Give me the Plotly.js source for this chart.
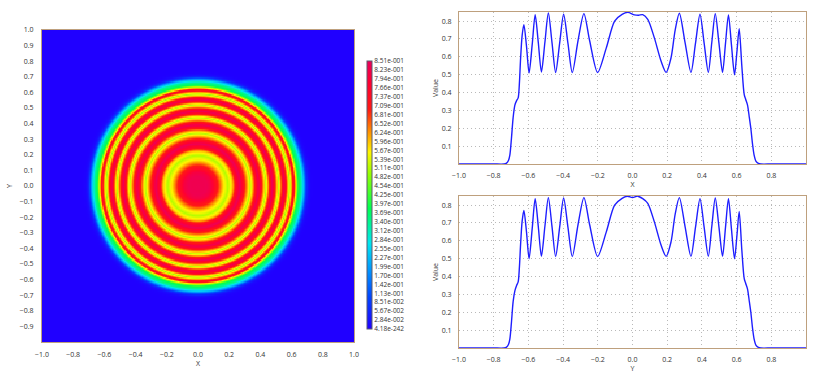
<!DOCTYPE html>
<html>
<head>
<meta charset="utf-8">
<script src="https://cdn.plot.ly/plotly-3.0.1.min.js"></script>
<style>
  html, body { margin: 0; padding: 0; background: #ffffff; }
  #chart { width: 822px; height: 384px; }
</style>
</head>
<body>
<div id="chart"></div>
<script>
// Profile along X (through centre)
const profXpos = [-1.0, -0.9, -0.8, -0.74, -0.726, -0.715, -0.707, -0.698, -0.688, -0.678, -0.668, -0.659, -0.652, -0.645, -0.636, -0.626, -0.611, -0.596, -0.578, -0.561, -0.543, -0.525, -0.505, -0.485, -0.464, -0.443, -0.420, -0.397, -0.372, -0.347, -0.314, -0.280, -0.247, -0.201, -0.151, -0.103, -0.060, -0.027, 0.011, 0.035, 0.059, 0.088, 0.126, 0.165, 0.194, 0.222, 0.246, 0.270, 0.303, 0.337, 0.363, 0.389, 0.413, 0.437, 0.457, 0.477, 0.498, 0.519, 0.536, 0.553, 0.570, 0.588, 0.602, 0.615, 0.630, 0.644, 0.653, 0.663, 0.672, 0.682, 0.692, 0.701, 0.712, 0.726, 0.74, 0.8, 0.9, 1.0];
const profXval = [0, 0, 0, 0, 0.005, 0.02, 0.05, 0.14, 0.26, 0.33, 0.355, 0.37, 0.45, 0.59, 0.72, 0.78, 0.66, 0.51, 0.67, 0.836, 0.68, 0.515, 0.68, 0.845, 0.68, 0.512, 0.675, 0.838, 0.675, 0.512, 0.69, 0.842, 0.69, 0.512, 0.65, 0.80, 0.838, 0.849, 0.835, 0.833, 0.836, 0.81, 0.706, 0.575, 0.513, 0.594, 0.75, 0.844, 0.68, 0.513, 0.675, 0.838, 0.675, 0.513, 0.68, 0.842, 0.68, 0.513, 0.675, 0.835, 0.67, 0.50, 0.63, 0.758, 0.55, 0.388, 0.36, 0.33, 0.27, 0.20, 0.11, 0.05, 0.015, 0.003, 0, 0, 0, 0];

// Profile along Y (through centre)
const profYpos = [-1.0, -0.9, -0.8, -0.74, -0.726, -0.715, -0.707, -0.698, -0.688, -0.678, -0.668, -0.659, -0.652, -0.645, -0.636, -0.626, -0.611, -0.596, -0.578, -0.561, -0.543, -0.525, -0.505, -0.485, -0.464, -0.443, -0.420, -0.397, -0.372, -0.347, -0.314, -0.280, -0.247, -0.201, -0.151, -0.103, -0.060, -0.030, 0.000, 0.030, 0.059, 0.088, 0.126, 0.165, 0.194, 0.222, 0.246, 0.270, 0.303, 0.337, 0.363, 0.389, 0.413, 0.437, 0.457, 0.477, 0.498, 0.519, 0.536, 0.553, 0.570, 0.588, 0.602, 0.615, 0.630, 0.644, 0.653, 0.663, 0.672, 0.682, 0.692, 0.701, 0.712, 0.726, 0.74, 0.8, 0.9, 1.0];
const profYval = [0, 0, 0, 0, 0.005, 0.02, 0.05, 0.14, 0.26, 0.32, 0.35, 0.37, 0.45, 0.58, 0.71, 0.77, 0.65, 0.50, 0.67, 0.836, 0.68, 0.513, 0.68, 0.842, 0.68, 0.512, 0.675, 0.840, 0.675, 0.512, 0.69, 0.842, 0.69, 0.512, 0.65, 0.80, 0.838, 0.850, 0.842, 0.850, 0.836, 0.81, 0.706, 0.575, 0.513, 0.594, 0.75, 0.842, 0.68, 0.513, 0.675, 0.836, 0.675, 0.513, 0.68, 0.840, 0.68, 0.513, 0.675, 0.836, 0.67, 0.50, 0.63, 0.765, 0.55, 0.388, 0.36, 0.33, 0.27, 0.20, 0.11, 0.05, 0.015, 0.003, 0, 0, 0, 0];

// Colorbar tick labels
const cbarLabels = ["8.51e-001","8.23e-001","7.94e-001","7.66e-001","7.37e-001","7.09e-001","6.81e-001","6.52e-001","6.24e-001","5.96e-001","5.67e-001","5.39e-001","5.11e-001","4.82e-001","4.54e-001","4.25e-001","3.97e-001","3.69e-001","3.40e-001","3.12e-001","2.84e-001","2.55e-001","2.27e-001","1.99e-001","1.70e-001","1.42e-001","1.13e-001","8.51e-002","5.67e-002","2.84e-002","4.18e-242"];

// Axis tick values
const mapXticks = [-1.0,-0.8,-0.6,-0.4,-0.2,0.0,0.2,0.4,0.6,0.8,1.0];
const mapYticks = [1.0,0.9,0.8,0.7,0.6,0.5,0.4,0.3,0.2,0.1,0.0,-0.1,-0.2,-0.3,-0.4,-0.5,-0.6,-0.7,-0.8,-0.9];
const lineXticks = [-1.0,-0.8,-0.6,-0.4,-0.2,0.0,0.2,0.4,0.6,0.8];
const lineYticks = [0.1,0.2,0.3,0.4,0.5,0.6,0.7,0.8];

// Build the 2D map from the radial profile (right half of the X profile)
function interp(xs, vs, t) {
  if (t <= xs[0]) return vs[0];
  if (t >= xs[xs.length-1]) return vs[vs.length-1];
  for (let i = 0; i < xs.length-1; i++) {
    if (t >= xs[i] && t <= xs[i+1]) {
      const f = (t - xs[i]) / (xs[i+1] - xs[i]);
      return vs[i] + f * (vs[i+1] - vs[i]);
    }
  }
  return 0;
}
const N = 241;
const gx = [], gy = [], gz = [];
for (let i = 0; i < N; i++) { gx.push(-1 + 2*i/(N-1)); gy.push(-1 + 2*i/(N-1)); }
for (let j = 0; j < N; j++) {
  const row = [];
  for (let i = 0; i < N; i++) {
    const r = Math.sqrt(gx[i]*gx[i] + gy[j]*gy[j]);
    row.push(interp(profXpos, profXval, r));
  }
  gz.push(row);
}

const zMax = 0.851;
const cscale = [
  [0.0, 'rgb(32,0,255)'],
  [0.12, 'rgb(0,70,255)'],
  [0.22, 'rgb(0,150,255)'],
  [0.32, 'rgb(0,230,240)'],
  [0.45, 'rgb(0,255,80)'],
  [0.58, 'rgb(150,255,0)'],
  [0.66, 'rgb(255,245,0)'],
  [0.74, 'rgb(255,140,0)'],
  [0.82, 'rgb(255,25,20)'],
  [0.92, 'rgb(255,0,50)'],
  [1.0, 'rgb(235,0,90)']
];

const font = {family: 'Open Sans, Noto Sans, sans-serif', size: 7, color: '#333'};
const frame = 'rgb(190,160,125)';
const gridc = 'rgb(185,185,185)';

const traces = [
  {
    type: 'heatmap', x: gx, y: gy, z: gz, zmin: 0, zmax: zMax,
    colorscale: cscale, xaxis: 'x', yaxis: 'y', hoverinfo: 'skip',
    colorbar: {
      x: 367/822, xanchor: 'left', y: 1 - 195/384, yanchor: 'middle',
      thickness: 5, thicknessmode: 'pixels', len: 268, lenmode: 'pixels',
      tickvals: cbarLabels.map(parseFloat), ticktext: cbarLabels,
      tickfont: {family: font.family, size: 6.5, color: '#333'},
      ticks: '', outlinewidth: 1, outlinecolor: 'rgb(90,90,110)', xpad: 0, ypad: 0
    }
  },
  {
    type: 'scatter', mode: 'lines', x: profXpos, y: profXval, xaxis: 'x2', yaxis: 'y2',
    line: {color: 'rgb(30,30,255)', width: 1.4, shape: 'spline', smoothing: 0.8},
    showlegend: false, hoverinfo: 'skip'
  },
  {
    type: 'scatter', mode: 'lines', x: profYpos, y: profYval, xaxis: 'x3', yaxis: 'y3',
    line: {color: 'rgb(30,30,255)', width: 1.4, shape: 'spline', smoothing: 0.8},
    showlegend: false, hoverinfo: 'skip'
  }
];

function lineX(title, anchor) {
  return {
    domain: [459/822, 806/822], anchor: anchor, range: [-1, 1],
    tickvals: lineXticks, tickformat: '.1f', tickfont: font,
    ticks: 'outside', ticklen: 5, tickcolor: 'rgba(0,0,0,0)',
    showline: true, linecolor: frame, linewidth: 1, mirror: true,
    showgrid: true, gridcolor: gridc, griddash: '1px,3px', gridwidth: 1,
    zeroline: false,
    title: {text: title, font: font, standoff: 0}
  };
}
function lineY(domainY, anchor) {
  return {
    domain: domainY, anchor: anchor, range: [0, 0.851],
    tickvals: lineYticks, tickformat: '.1f', tickfont: font,
    ticks: 'outside', ticklen: 5, tickcolor: 'rgba(0,0,0,0)',
    showline: true, linecolor: frame, linewidth: 1, mirror: true,
    showgrid: true, gridcolor: gridc, griddash: '1px,3px', gridwidth: 1,
    zeroline: false,
    title: {text: 'Value', font: font, standoff: 2}
  };
}

const layout = {
  width: 822, height: 384,
  margin: {l: 0, r: 0, t: 0, b: 0},
  paper_bgcolor: '#ffffff', plot_bgcolor: '#ffffff',
  showlegend: false,
  font: font,
  xaxis: {
    domain: [42/822, 354/822], anchor: 'y', range: [-1, 1],
    tickvals: mapXticks, tickformat: '.1f', tickfont: font,
    ticks: 'outside', ticklen: 6, tickcolor: 'rgba(0,0,0,0)',
    showline: true, linecolor: frame, linewidth: 1, mirror: true,
    showgrid: false, zeroline: false,
    title: {text: 'X', font: font, standoff: 0}
  },
  yaxis: {
    domain: [1 - 342/384, 1 - 30/384], anchor: 'x', range: [-1, 1],
    tickvals: mapYticks, tickformat: '.1f', tickfont: font,
    ticks: 'outside', ticklen: 6, tickcolor: 'rgba(0,0,0,0)',
    showline: true, linecolor: frame, linewidth: 1, mirror: true,
    showgrid: false, zeroline: false,
    title: {text: 'Y', font: font, standoff: 6}
  },
  xaxis2: lineX('X', 'y2'),
  yaxis2: lineY([1 - 164/384, 1 - 12/384], 'x2'),
  xaxis3: lineX('Y', 'y3'),
  yaxis3: lineY([1 - 348/384, 1 - 196/384], 'x3')
};

Plotly.newPlot('chart', traces, layout, {displayModeBar: false, staticPlot: true});
</script>
</body>
</html>
